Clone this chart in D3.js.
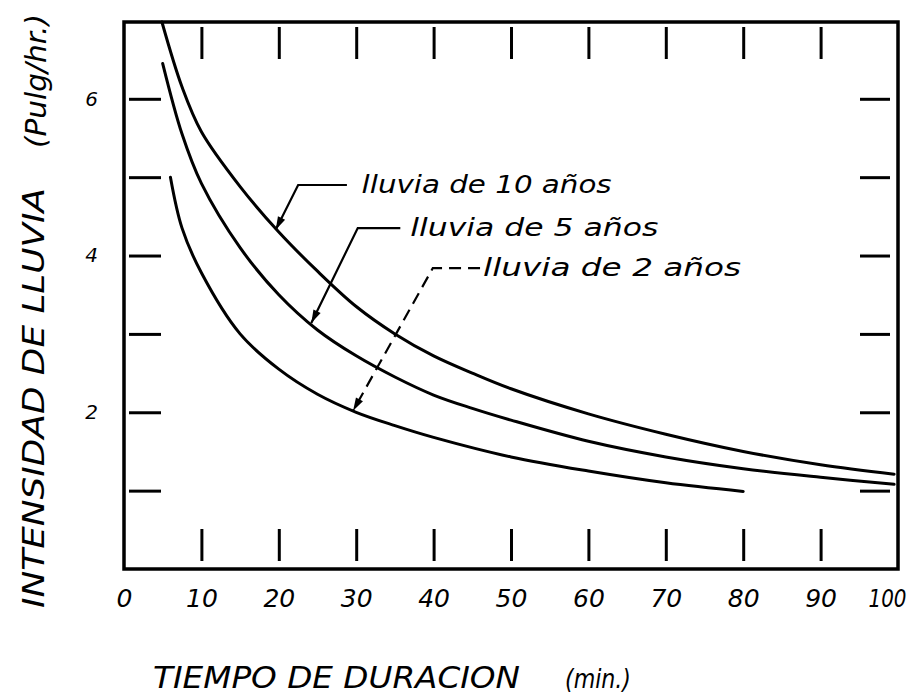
<!DOCTYPE html>
<html>
<head>
<meta charset="utf-8">
<script src="https://cdn.jsdelivr.net/npm/d3@7"></script>
<style>
  body { margin: 0; background: #fff; }
  svg text { font-family: "DejaVu Sans", sans-serif; font-style: italic; fill: #000; }
</style>
</head>
<body>
<svg id="chart" width="917" height="696"></svg>
<script>
// ---------- data ----------
const duration10 = [4.9, 7.5, 10, 15, 20, 25, 30, 35, 40, 45, 50, 60, 70, 80, 90, 99.5];
const rain10     = [6.98, 6.15, 5.58, 4.88, 4.3, 3.8, 3.35, 3.0, 2.72, 2.5, 2.3, 1.98, 1.72, 1.5, 1.33, 1.21];

const duration5  = [5, 7.5, 10, 15, 20, 25, 30, 35, 40, 45, 50, 60, 70, 80, 90, 99.5];
const rain5      = [6.45, 5.55, 4.92, 4.1, 3.5, 3.05, 2.72, 2.45, 2.22, 2.05, 1.9, 1.63, 1.43, 1.28, 1.17, 1.08];

const duration2  = [6, 7.5, 10, 15, 20, 25, 30, 35, 40, 50, 60, 70, 80];
const rain2      = [5.0, 4.35, 3.78, 3.0, 2.55, 2.23, 2.0, 1.83, 1.68, 1.43, 1.25, 1.1, 0.99];

const xTickValues  = [10, 20, 30, 40, 50, 60, 70, 80, 90];
const xLabelValues = [0, 10, 20, 30, 40, 50, 60, 70, 80, 90, 100];
const yTickValues  = [1, 2, 3, 4, 5, 6];
const yLabelValues = [2, 4, 6];

const xTitle = "TIEMPO  DE  DURACION";
const xUnit  = "(min.)";
const yTitle = "INTENSIDAD  DE  LLUVIA";
const yUnit  = "(Pulg/hr.)";

// annotation leaders (data units)
const leaderLabels = ["lluvia de 10 años", "lluvia de 5 años", "lluvia de 2 años"];
const leaderTipX   = [19.6, 24.2, 29.6];
const leaderTipY   = [4.33, 3.14, 2.02];
const leaderElbowX = [22.5, 30.2, 39.9];
const leaderElbowY = [4.9, 4.35, 3.84];
const leaderEndX   = [28.8, 35.7, 46.0];
const leaderTextX  = [30.7, 37.0, 46.4];
const leaderDashed = [false, false, true];

// ---------- drawing ----------
const svg = d3.select("#chart");
const x = d3.scaleLinear().domain([0, 100]).range([124, 898]);
const y = d3.scaleLinear().domain([0, 6.98]).range([569, 22]);

// frame
svg.append("rect")
  .attr("x", x(0)).attr("y", y(6.98))
  .attr("width", x(100) - x(0)).attr("height", y(0) - y(6.98))
  .attr("fill", "none").attr("stroke", "#000").attr("stroke-width", 3.5);

function styleTicks(g) {
  g.select(".domain").remove();
  g.selectAll(".tick line").attr("stroke", "#000").attr("stroke-width", 3);
  g.selectAll(".tick text").remove();
}

// inner tick marks
svg.append("g").attr("transform", `translate(0,${y(0) - 8})`)
  .call(d3.axisBottom(x).tickValues(xTickValues).tickSize(-32).tickFormat(""))
  .call(styleTicks);
svg.append("g").attr("transform", `translate(0,${y(6.98) + 5})`)
  .call(d3.axisTop(x).tickValues(xTickValues).tickSize(-32).tickFormat(""))
  .call(styleTicks);
svg.append("g").attr("transform", `translate(${x(0) + 5},0)`)
  .call(d3.axisLeft(y).tickValues(yTickValues).tickSize(-32).tickFormat(""))
  .call(styleTicks);
svg.append("g").attr("transform", `translate(${x(100) - 8},0)`)
  .call(d3.axisRight(y).tickValues(yTickValues).tickSize(-30).tickFormat(""))
  .call(styleTicks);

// tick labels
const xLab = svg.append("g").attr("transform", `translate(0,${y(0)})`)
  .call(d3.axisBottom(x).tickValues(xLabelValues).tickSize(0).tickPadding(20).tickFormat(d3.format("d")));
xLab.select(".domain").remove();
xLab.attr("font-family", null).attr("font-size", null);
xLab.selectAll(".tick text").style("font-size", "25px").attr("fill", "#000")
  .attr("dx", d => d === 100 ? "-11" : null)
  .attr("textLength", d => d === 100 ? 38 : null)
  .attr("lengthAdjust", "spacingAndGlyphs");

const yLab = svg.append("g").attr("transform", `translate(${x(0)},0)`)
  .call(d3.axisLeft(y).tickValues(yLabelValues).tickSize(0).tickPadding(26).tickFormat(d3.format("d")));
yLab.select(".domain").remove();
yLab.attr("font-family", null).attr("font-size", null);
yLab.selectAll(".tick text").style("font-size", "20px").attr("fill", "#000");

// curves
const line = d3.line().x(d => x(d[0])).y(d => y(d[1])).curve(d3.curveCatmullRom.alpha(0.5));
const series = [
  d3.zip(duration10, rain10),
  d3.zip(duration5, rain5),
  d3.zip(duration2, rain2)
];
svg.append("g").selectAll("path").data(series).join("path")
  .attr("d", line)
  .attr("fill", "none").attr("stroke", "#000").attr("stroke-width", 3)
  .attr("stroke-linecap", "round");

// leaders with arrowheads
leaderLabels.forEach((lab, i) => {
  const tx = x(leaderTipX[i]), ty = y(leaderTipY[i]);
  const ex = x(leaderElbowX[i]), ey = y(leaderElbowY[i]);
  const hx = x(leaderEndX[i]);
  svg.append("path")
    .attr("d", `M${hx},${ey}L${ex},${ey}L${tx},${ty}`)
    .attr("fill", "none").attr("stroke", "#000").attr("stroke-width", 2.2)
    .attr("stroke-dasharray", leaderDashed[i] ? "12,7" : null);
  // arrowhead
  const ang = Math.atan2(ty - ey, tx - ex);
  const L = 13, W = 4;
  const bx = tx - L * Math.cos(ang), by = ty - L * Math.sin(ang);
  const px = -Math.sin(ang) * W, py = Math.cos(ang) * W;
  svg.append("path")
    .attr("d", `M${tx},${ty}L${bx + px},${by + py}L${bx - px},${by - py}Z`)
    .attr("fill", "#000");
  svg.append("text")
    .attr("x", x(leaderTextX[i])).attr("y", ey + 8)
    .attr("textLength", [250, 248, 258][i]).attr("lengthAdjust", "spacingAndGlyphs")
    .style("font-size", "24px")
    .text(lab);
});

// axis titles
svg.append("text")
  .attr("x", 153).attr("y", 688)
  .attr("textLength", 367).attr("lengthAdjust", "spacingAndGlyphs")
  .style("font-size", "31px")
  .text(xTitle);
svg.append("text")
  .attr("x", 565).attr("y", 688)
  .attr("textLength", 66).attr("lengthAdjust", "spacingAndGlyphs")
  .style("font-size", "26px")
  .text(xUnit);

svg.append("text")
  .attr("transform", "translate(44,608) rotate(-90)")
  .attr("textLength", 420).attr("lengthAdjust", "spacingAndGlyphs")
  .style("font-size", "30px")
  .text(yTitle);
svg.append("text")
  .attr("transform", "translate(46,148) rotate(-90)")
  .attr("textLength", 134).attr("lengthAdjust", "spacingAndGlyphs")
  .style("font-size", "28px")
  .text(yUnit);
</script>
</body>
</html>
